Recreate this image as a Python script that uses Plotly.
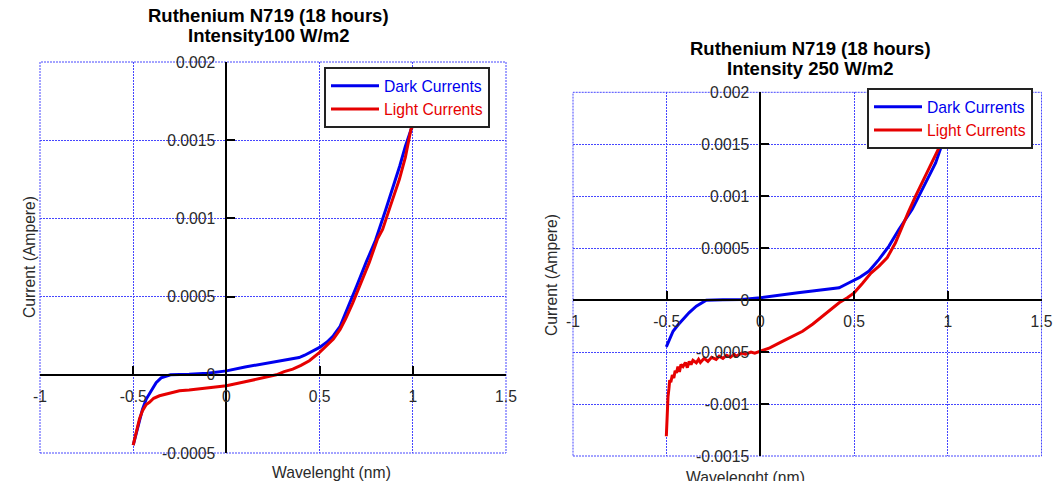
import plotly.graph_objects as go

# ---- data (volts on x despite the label, amps on y) ----
X_TICKS = [-1, -0.5, 0, 0.5, 1, 1.5]
X_LABELS = ["-1", "-0.5", "0", "0.5", "1", "1.5"]
Y_TICKS_100 = [-0.0005, 0, 0.0005, 0.001, 0.0015, 0.002]
Y_LABELS_100 = ["-0.0005", "0", "0.0005", "0.001", "0.0015", "0.002"]
Y_TICKS_250 = [-0.0015, -0.001, -0.0005, 0, 0.0005, 0.001, 0.0015, 0.002]
Y_LABELS_250 = ["-0.0015", "-0.001", "-0.0005", "0", "0.0005", "0.001", "0.0015", "0.002"]

dark_x_100 = [-0.5, -0.48, -0.466, -0.45, -0.43, -0.40, -0.377, -0.35, -0.32, -0.30, -0.25, -0.2,
              -0.1, 0, 0.1, 0.2, 0.3, 0.39, 0.42, 0.46, 0.5, 0.54, 0.574, 0.61, 0.66, 0.70, 0.75,
              0.80, 0.856, 0.90, 0.93, 0.96, 0.994, 1.0]
dark_i_100 = [-0.00045, -0.00035, -0.00028, -0.00022, -0.000155, -0.00009, -0.00005, -0.00002,
              -0.000005, 0, 0.000002, 0.000003, 0.00001, 0.000025, 0.00005, 0.00007, 0.00009,
              0.00011, 0.000125, 0.00015, 0.000175, 0.00021, 0.00025, 0.00031, 0.00045, 0.00057,
              0.00072, 0.00086, 0.00106, 0.00122, 0.001335, 0.00146, 0.00159, 0.0016]

light_x_100 = [-0.5, -0.48, -0.466, -0.45, -0.43, -0.413, -0.39, -0.359, -0.3, -0.252, -0.2, -0.145,
               -0.07, 0, 0.1, 0.214, 0.268, 0.31, 0.356, 0.40, 0.445, 0.5, 0.574, 0.61, 0.64, 0.678,
               0.72, 0.767, 0.811, 0.838, 0.88, 0.928, 0.96, 0.99, 1.0]
light_i_100 = [-0.00045, -0.00035, -0.00028, -0.00023, -0.00019, -0.000176, -0.00015, -0.000134,
               -0.000115, -0.000102, -0.000097, -0.00009, -0.00008, -0.00007, -0.000045, -0.000017,
               0, 0.00002, 0.000036, 0.00006, 0.00009, 0.000143, 0.000228, 0.00029, 0.00036, 0.00046,
               0.00058, 0.00072, 0.00087, 0.00093, 0.00108, 0.00125, 0.00139, 0.00157, 0.00159]

dark_x_250 = [-0.502, -0.485, -0.466, -0.44, -0.413, -0.38, -0.342, -0.31, -0.289, -0.2, -0.1, 0,
              0.12, 0.2, 0.278, 0.35, 0.42, 0.473, 0.527, 0.58, 0.633, 0.686, 0.739, 0.81, 0.872,
              0.935, 0.979, 1.0]
dark_i_250 = [-0.000449, -0.00037, -0.000299, -0.00024, -0.000186, -0.00012, -0.0000578, -0.00002,
              0, 0.000003, 0.000006, 0.000023, 0.000055, 0.00007, 0.000087, 0.0001, 0.000119,
              0.000167, 0.000216, 0.00028, 0.000392, 0.00052, 0.00068, 0.000874, 0.0011, 0.00132,
              0.00155, 0.00165]

light_x_250 = [-0.502, -0.5, -0.497, -0.493, -0.488, -0.484, -0.478, -0.47, -0.462, -0.455, -0.448,
               -0.44, -0.432, -0.424, -0.413, -0.40, -0.39, -0.38, -0.37, -0.36, -0.342, -0.33,
               -0.32, -0.30, -0.28, -0.26, -0.236, -0.22, -0.2, -0.18, -0.16, -0.14, -0.129, -0.1,
               -0.08, -0.05, -0.03, 0, 0.05, 0.12, 0.17, 0.225, 0.28, 0.331, 0.38, 0.42, 0.464,
               0.5, 0.544, 0.59, 0.633, 0.677, 0.72, 0.757, 0.79, 0.828, 0.86, 0.899, 0.935, 0.97,
               1.0]
light_i_250 = [-0.00131, -0.0012, -0.00105, -0.00093, -0.00085, -0.00077, -0.00079, -0.00072,
               -0.00075, -0.00068, -0.0007, -0.00064, -0.00069, -0.00062, -0.00064, -0.0006,
               -0.00065, -0.00059, -0.00062, -0.00058, -0.000603, -0.00057, -0.0006, -0.00056,
               -0.00059, -0.00055, -0.00057, -0.00054, -0.00056, -0.00053, -0.00055, -0.00052,
               -0.00054, -0.00051, -0.00052, -0.0005, -0.00051, -0.00049, -0.00046, -0.000395,
               -0.00035, -0.0003, -0.00023, -0.000154, -0.00009, -0.000025, 0.000023, 0.00007,
               0.00016, 0.00026, 0.000328, 0.00041, 0.00055, 0.000713, 0.00085, 0.001, 0.00112,
               0.00126, 0.0014, 0.00152, 0.00164]

BLUE = "#0000ee"
RED = "#e60000"
GRID = "#4646ff"
GRID_DASH = "2px,1px"
FONT = "Liberation Sans, Arial, sans-serif"
TEXT = "#2a2a2a"
W, H = 1053, 481

X_RANGE = [-1, 1.5]
PANELS = [
    # x domain, y domain, y range, y ticks, y labels
    ([40 / W, 506 / W], [(H - 453) / H, (H - 62) / H], [-0.0005, 0.002], Y_TICKS_100, Y_LABELS_100),
    ([573 / W, 1041.5 / W], [(H - 456) / H, (H - 92.3) / H], [-0.0015, 0.002], Y_TICKS_250, Y_LABELS_250),
]


def zero_position(domain, rng):
    """Paper coordinate where value 0 falls on an axis."""
    return domain[0] + (0 - rng[0]) / (rng[1] - rng[0]) * (domain[1] - domain[0])


fig = go.Figure()
series = [
    (dark_x_100, dark_i_100, light_x_100, light_i_100),
    (dark_x_250, dark_i_250, light_x_250, light_i_250),
]
for idx, (dx, di, lx, li) in enumerate(series):
    suffix = "" if idx == 0 else str(idx + 1)
    legend = "legend" if idx == 0 else "legend2"
    fig.add_scatter(x=dx, y=di, mode="lines", xaxis="x" + suffix, yaxis="y" + suffix,
                    line={"color": BLUE, "width": 3}, legend=legend,
                    name=f"<span style='color:{BLUE}'>Dark Currents</span>")
    fig.add_scatter(x=lx, y=li, mode="lines", xaxis="x" + suffix, yaxis="y" + suffix,
                    line={"color": RED, "width": 3}, legend=legend,
                    name=f"<span style='color:{RED}'>Light Currents</span>")

axis_common = dict(
    showline=True, linecolor="black", linewidth=2,
    ticks="inside", ticklen=8, tickwidth=2, tickcolor="black",
    showgrid=True, gridcolor=GRID, gridwidth=1, griddash=GRID_DASH,
    zeroline=False, anchor="free",
    tickfont={"family": FONT, "size": 15.7, "color": TEXT},
)
layout = {}
for idx, (xdom, ydom, yrng, yt, yl) in enumerate(PANELS):
    suffix = "" if idx == 0 else str(idx + 1)
    layout["xaxis" + suffix] = dict(
        axis_common, domain=xdom, range=X_RANGE, tickvals=X_TICKS, ticktext=X_LABELS,
        position=zero_position(ydom, yrng), ticklabelstandoff=7,
    )
    layout["yaxis" + suffix] = dict(
        axis_common, domain=ydom, range=yrng, tickvals=yt, ticktext=yl,
        position=zero_position(xdom, X_RANGE), ticklabelstandoff=7,
    )
    # dotted frame: the edge grid lines plotly leaves out
    fig.add_shape(type="rect", xref=f"x{suffix} domain", yref=f"y{suffix} domain",
                  x0=0, x1=1, y0=0, y1=1, layer="below",
                  line={"color": GRID, "width": 1, "dash": GRID_DASH})
fig.update_layout(**layout)

legend_style = dict(
    bgcolor="white", bordercolor="#222", borderwidth=2,
    font={"family": FONT, "size": 15.7}, xanchor="left", yanchor="top",
    tracegroupgap=0, itemwidth=48,
)
fig.update_layout(
    width=W, height=H,
    margin={"l": 0, "r": 0, "t": 0, "b": 0, "autoexpand": False},
    paper_bgcolor="white", plot_bgcolor="white",
    font={"family": FONT, "color": TEXT},
    legend=dict(legend_style, x=324 / W, y=(H - 67) / H),
    legend2=dict(legend_style, x=867 / W, y=(H - 88) / H),
    showlegend=True,
)

title_font = {"family": FONT, "size": 18.5, "color": "black"}
label_font = {"family": FONT, "size": 15.7, "color": TEXT}
for text, x, y in (
    ("Ruthenium N719 (18 hours)", 268.5, 15.5),
    ("Intensity100 W/m2", 268.5, 35.5),
    ("Ruthenium N719 (18 hours)", 810, 49),
    ("Intensity 250 W/m2", 810, 68),
):
    fig.add_annotation(text=f"<b>{text}</b>", x=x / W, y=(H - y) / H, xref="paper", yref="paper",
                       showarrow=False, font=title_font, xanchor="center", yanchor="middle")
for x, y in ((18.5, 257), (551, 275)):
    fig.add_annotation(text="Current (Ampere)", x=x / W, y=(H - y) / H, xref="paper", yref="paper",
                       showarrow=False, font=label_font, textangle=-90)
for x, y in ((270, 472), (807, 477)):
    fig.add_annotation(text="Wavelenght (nm)", x=x / W, y=(H - y) / H, xref="paper", yref="paper",
                       showarrow=False, font=label_font, yanchor="middle")

# the page body keeps its default 8px margin otherwise, which shifts the figure
fig.write_html("out.html", config={"displayModeBar": False},
               post_script="document.body.style.margin = '0';")
